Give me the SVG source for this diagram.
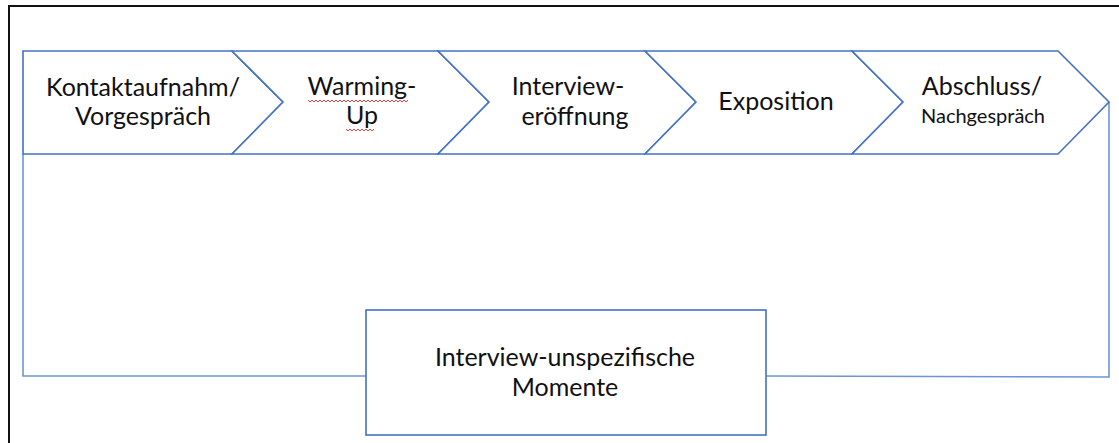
<svg xmlns="http://www.w3.org/2000/svg" width="1119" height="443" viewBox="0 0 1119 443">
<style>
.shape{fill:#fff;stroke:#4472C4;stroke-width:1.6;stroke-linejoin:miter}
.conn{fill:none;stroke:#6F93D8;stroke-width:1.6}
.t{font-family:Lato,"Open Sans",sans-serif;font-size:25px;fill:#111;text-anchor:middle}
.s{font-size:20px}
.sq{fill:none;stroke:#E03030;stroke-width:0.9}
</style>
<rect width="1119" height="443" fill="#fff"/>
<path d="M9,443 V6 H1119" fill="none" stroke="#111" stroke-width="2"/>
<g id="connectors">
<polyline class="conn" points="23,154 23,376 366,376"/>
<polyline class="conn" points="766,376 1109,377 1109,102"/>
</g>
<g id="node1">
<polygon class="shape" points="23,51 232,51 283,102 232,154 23,154"/>
<text class="t" x="143" y="96">Kontaktaufnahm/</text>
<text class="t" x="143" y="125">Vorgespräch</text>
</g>
<g id="node2">
<polygon class="shape" points="232,51 438,51 489,102 438,154 232,154 283,102"/>
<text class="t" x="362" y="95">Warming-</text>
<text class="t" x="362" y="124">Up</text>
<path class="sq" d="M308,100 l2,2 2,-2 2,2 2,-2 2,2 2,-2 2,2 2,-2 2,2 2,-2 2,2 2,-2 2,2 2,-2 2,2 2,-2 2,2 2,-2 2,2 2,-2 2,2 2,-2 2,2 2,-2 2,2 2,-2 2,2 2,-2 2,2 2,-2 2,2 2,-2 2,2 2,-2 2,2 2,-2 2,2 2,-2 2,2 2,-2 2,2 2,-2 2,2 2,-2 2,2 2,-2 2,2 2,-2 2,2 2,-2"/>
<path class="sq" d="M346,129 l2,2 2,-2 2,2 2,-2 2,2 2,-2 2,2 2,-2 2,2 2,-2 2,2 2,-2 2,2 2,-2"/>
</g>
<g id="node3">
<polygon class="shape" points="438,51 645,51 696,102 645,154 438,154 489,102"/>
<text class="t" x="568" y="95">Interview-</text>
<text class="t" x="575" y="125">eröffnung</text>
</g>
<g id="node4">
<polygon class="shape" points="645,51 852,51 903,102 852,154 645,154 696,102"/>
<text class="t" x="776" y="110">Exposition</text>
</g>
<g id="node5">
<polygon class="shape" points="852,51 1058,51 1109,102 1058,154 852,154 903,102"/>
<text class="t" x="982" y="95">Abschluss/</text>
<text class="t s" x="983" y="123">Nachgespräch</text>
</g>
<g id="node6">
<rect class="shape" x="366" y="310" width="400" height="125"/>
<text class="t" x="565" y="366">Interview-unspezifische</text>
<text class="t" x="565" y="396">Momente</text>
</g>
</svg>
